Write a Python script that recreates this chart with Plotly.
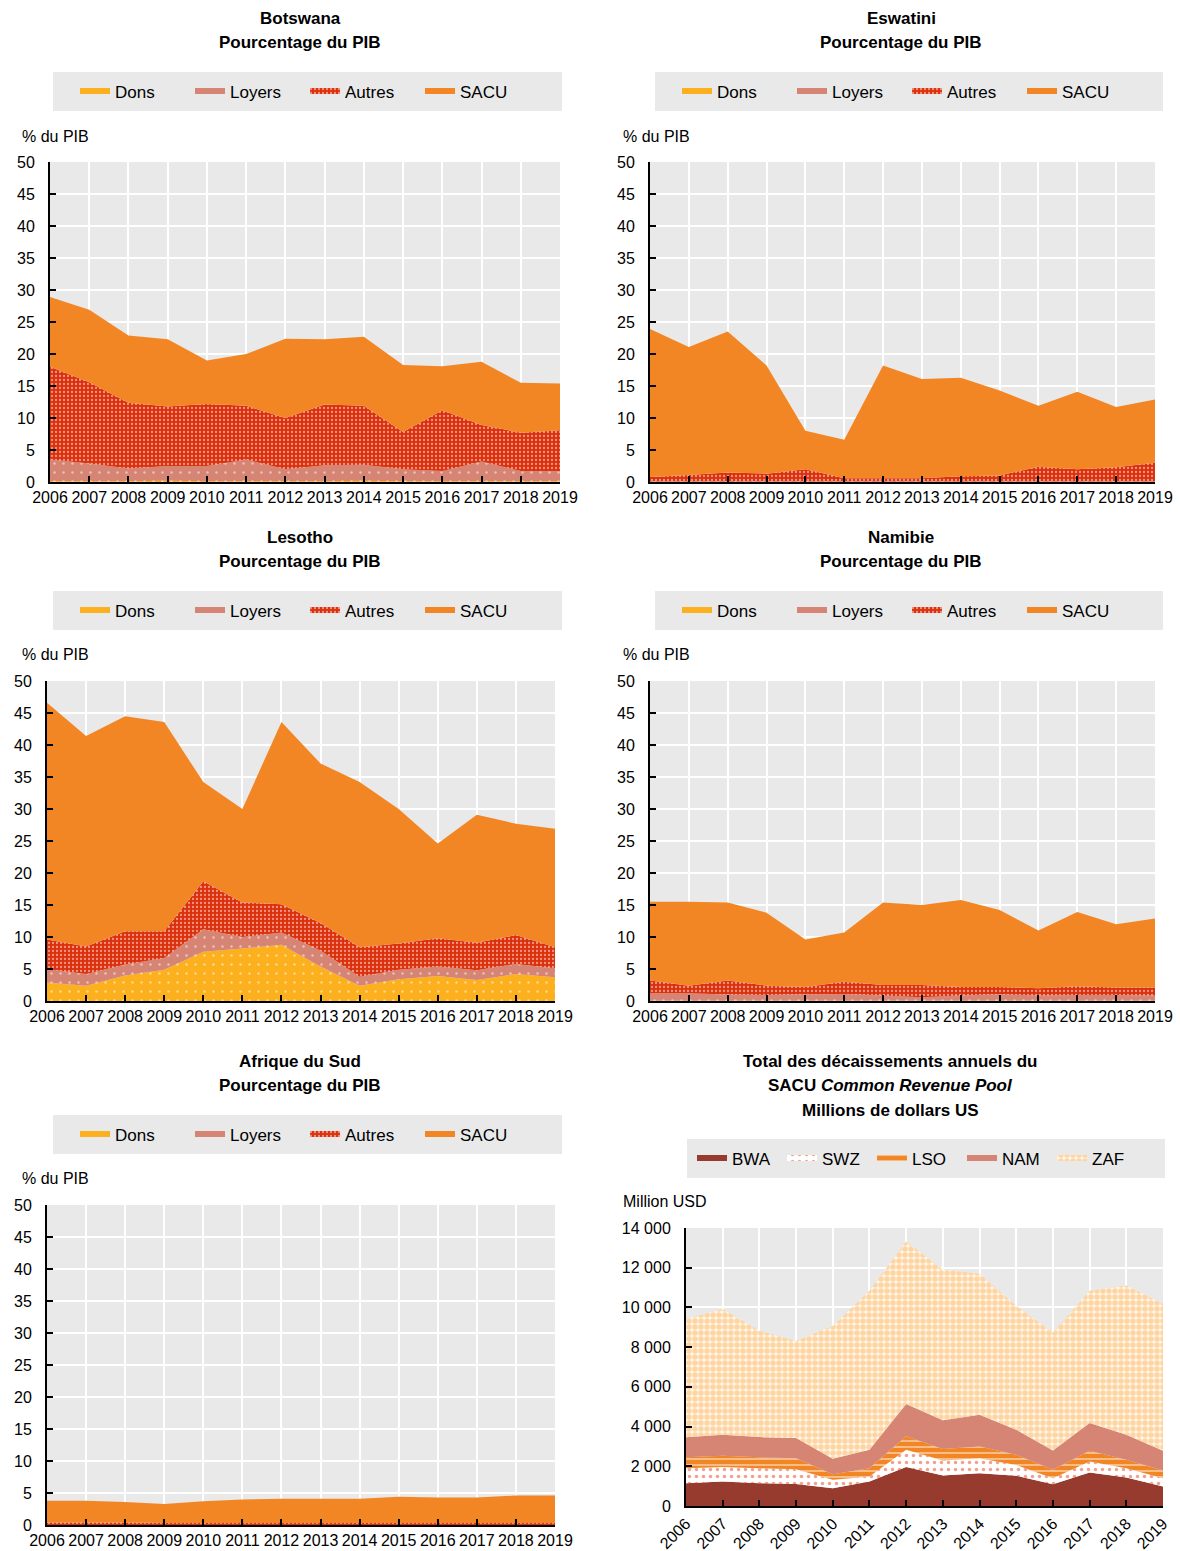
import plotly.graph_objects as go

# ---------------- DATA ----------------
years = list(range(2006, 2020))
series_names = ["Dons", "Loyers", "Autres", "SACU"]

# Botswana (% du PIB)
bwa_dons = [0.1, 0.1, 0.1, 0.2, 0.1, 0.1, 0.1, 0.1, 0.2, 0.1, 0.1, 0.1, 0.1, 0.1]
bwa_loyers = [3.4, 2.8, 2.0, 2.3, 2.4, 3.4, 1.9, 2.5, 2.5, 1.9, 1.6, 3.1, 1.6, 1.6]
bwa_autres = [14.5, 12.7, 10.3, 9.3, 9.7, 8.4, 8.0, 9.5, 9.2, 5.8, 9.5, 5.7, 6.0, 6.4]
bwa_sacu = [10.9, 11.3, 10.5, 10.5, 6.8, 8.1, 12.4, 10.2, 10.8, 10.5, 6.9, 9.9, 7.8, 7.3]

# Eswatini (% du PIB)
swz_dons = [0.0] * 14
swz_loyers = [0.1, 0.1, 0.1, 0.1, 0.1, 0.1, 0.1, 0.1, 0.1, 0.1, 0.1, 0.1, 0.1, 0.1]
swz_autres = [0.7, 1.0, 1.4, 1.2, 1.9, 0.5, 0.5, 0.5, 0.8, 0.9, 2.3, 1.9, 2.2, 2.9]
swz_sacu = [23.1, 20.0, 22.0, 16.9, 6.0, 6.0, 17.6, 15.5, 15.4, 13.3, 9.5, 12.1, 9.4, 9.9]

# Lesotho (% du PIB)
lso_dons = [2.9, 2.4, 4.0, 4.9, 7.7, 8.2, 8.8, 5.4, 2.4, 3.4, 3.9, 3.3, 4.2, 3.7]
lso_loyers = [2.1, 1.8, 1.7, 1.8, 3.5, 1.8, 1.9, 2.5, 1.4, 1.5, 1.5, 1.5, 1.6, 1.4]
lso_autres = [4.6, 4.3, 5.2, 4.2, 7.5, 5.4, 4.4, 4.3, 4.6, 4.1, 4.4, 4.3, 4.5, 3.3]
lso_sacu = [37.0, 32.9, 33.6, 32.7, 15.5, 14.6, 28.5, 24.9, 25.8, 21.0, 14.8, 20.0, 17.4, 18.5]

# Namibie (% du PIB)
nam_dons = [0.05] * 14
nam_loyers = [1.15, 1.15, 0.95, 0.9, 1.0, 1.05, 0.8, 0.55, 0.8, 1.0, 0.8, 0.9, 0.9, 0.8]
nam_autres = [2.0, 1.2, 2.2, 1.45, 1.15, 1.9, 1.65, 1.9, 1.35, 1.15, 1.15, 1.35, 1.15, 1.25]
nam_sacu = [12.3, 13.1, 12.2, 11.4, 7.4, 7.7, 12.9, 12.5, 13.6, 12.0, 9.0, 11.6, 9.9, 10.8]

# Afrique du Sud (% du PIB)
zaf_dons = [0.0] * 14
zaf_loyers = [0.0] * 14
zaf_autres = [0.4, 0.4, 0.4, 0.3, 0.3, 0.3, 0.3, 0.3, 0.3, 0.3, 0.3, 0.3, 0.3, 0.3]
zaf_sacu = [3.4, 3.4, 3.2, 3.0, 3.4, 3.7, 3.8, 3.8, 3.8, 4.1, 4.0, 4.0, 4.3, 4.3]

# SACU Common Revenue Pool (millions USD)
pool_names = ["BWA", "SWZ", "LSO", "NAM", "ZAF"]
pool_bwa = [1150, 1230, 1150, 1110, 890, 1230, 1960, 1530, 1650, 1520, 1100, 1690, 1430, 980]
pool_swz = [750, 730, 750, 740, 430, 250, 870, 760, 760, 550, 300, 550, 470, 420]
pool_lso = [560, 570, 550, 560, 280, 420, 680, 580, 590, 510, 420, 540, 430, 390]
pool_nam = [1000, 1060, 1020, 1010, 780, 930, 1630, 1450, 1600, 1260, 980, 1400, 1260, 990]
pool_zaf = [5950, 6330, 5350, 4890, 6690, 8010, 8180, 7580, 7090, 6240, 5940, 6660, 7510, 7390]

pct_ticks = list(range(0, 55, 5))
usd_ticks = [0, 2000, 4000, 6000, 8000, 10000, 12000, 14000]
usd_ticktext = ["0", "2 000", "4 000", "6 000", "8 000", "10 000", "12 000", "14 000"]

# ---------------- STYLE ----------------
W, H = 1180, 1551
FONT = "Liberation Sans Narrow, Arial Narrow, Liberation Sans, Arial, sans-serif"
BG = "#E9E9E9"

def px(x):
    return x / W

def py(y):
    return 1 - y / H

styles = {
    "Dons": dict(fillcolor="#FDB01E", fillpattern=dict(shape=".", bgcolor="#FDB01E", fgcolor="white", size=9, solidity=0.06)),
    "Loyers": dict(fillcolor="#D68474", fillpattern=dict(shape=".", bgcolor="#D68474", fgcolor="white", size=9, solidity=0.06)),
    "Autres": dict(fillcolor="#DC300C", fillpattern=dict(shape=".", bgcolor="#DC300C", fgcolor="white", size=4, solidity=0.25)),
    "SACU": dict(fillcolor="#F38624"),
    "BWA": dict(fillcolor="#963B2E"),
    "SWZ": dict(fillcolor="white", fillpattern=dict(shape=".", bgcolor="white", fgcolor="#E8401C", size=7, solidity=0.2)),
    "LSO": dict(fillcolor="#F38624", fillpattern=dict(shape="-", bgcolor="#F38624", fgcolor="white", size=6, solidity=0.3)),
    "NAM": dict(fillcolor="#D68474"),
    "ZAF": dict(fillcolor="#FCC27A", fillpattern=dict(shape=".", bgcolor="#FFF6EA", fgcolor="#FBB25A", size=6, solidity=0.65)),
}

panels = [
    dict(title=["<b>Botswana</b>", "<b>Pourcentage du PIB</b>"], data=[bwa_dons, bwa_loyers, bwa_autres, bwa_sacu], names=series_names,
         box=(50, 560, 162, 482), legbox=(53, 562, 72, 111), legx=75, entw=70, tx=300, ty=18, ylab="% du PIB", ylabpos=(20, 136)),
    dict(title=["<b>Eswatini</b>", "<b>Pourcentage du PIB</b>"], data=[swz_dons, swz_loyers, swz_autres, swz_sacu], names=series_names,
         box=(650, 1155, 162, 482), legbox=(655, 1163, 72, 111), legx=677, entw=70, tx=901, ty=18, ylab="% du PIB", ylabpos=(621, 136)),
    dict(title=["<b>Lesotho</b>", "<b>Pourcentage du PIB</b>"], data=[lso_dons, lso_loyers, lso_autres, lso_sacu], names=series_names,
         box=(47, 555, 681, 1001), legbox=(53, 562, 591, 630), legx=75, entw=70, tx=300, ty=537, ylab="% du PIB", ylabpos=(20, 654)),
    dict(title=["<b>Namibie</b>", "<b>Pourcentage du PIB</b>"], data=[nam_dons, nam_loyers, nam_autres, nam_sacu], names=series_names,
         box=(650, 1155, 681, 1001), legbox=(655, 1163, 591, 630), legx=677, entw=70, tx=901, ty=537, ylab="% du PIB", ylabpos=(621, 654)),
    dict(title=["<b>Afrique du Sud</b>", "<b>Pourcentage du PIB</b>"], data=[zaf_dons, zaf_loyers, zaf_autres, zaf_sacu], names=series_names,
         box=(47, 555, 1205, 1525), legbox=(53, 562, 1115, 1154), legx=75, entw=70, tx=300, ty=1061, ylab="% du PIB", ylabpos=(20, 1178)),
    dict(title=["<b>Total des décaissements annuels du</b>", "<b>SACU <i>Common Revenue Pool</i></b>", "<b>Millions de dollars US</b>"],
         data=[pool_bwa, pool_swz, pool_lso, pool_nam, pool_zaf], names=pool_names,
         box=(686, 1163, 1228, 1506), legbox=(687, 1165, 1139, 1178), legx=692, entw=45, tx=890, ty=1061, ylab="Million USD", ylabpos=(621, 1201)),
]

fig = go.Figure()
layout = dict(width=W, height=H, margin=dict(l=0, r=0, t=0, b=0, autoexpand=False), paper_bgcolor="white",
              plot_bgcolor=BG, font=dict(family=FONT, size=16, color="black"), showlegend=True)
shapes = []
annotations = []

for i, p in enumerate(panels):
    n = i + 1
    xa = "x" if n == 1 else f"x{n}"
    ya = "y" if n == 1 else f"y{n}"
    leg = "legend" if n == 1 else f"legend{n}"
    x0, x1, y0, y1 = p["box"]
    for name, vals in zip(p["names"], p["data"]):
        st = styles[name]
        kw = dict(x=years, y=vals, name=name, stackgroup=f"g{n}", mode="none",
                  fillcolor=st["fillcolor"], xaxis=xa, yaxis=ya, legend=leg, hoverinfo="x+y+name")
        if "fillpattern" in st:
            kw["fillpattern"] = st["fillpattern"]
        fig.add_trace(go.Scatter(**kw))

    is_usd = (n == 6)
    xkey = "xaxis" if n == 1 else f"xaxis{n}"
    ykey = "yaxis" if n == 1 else f"yaxis{n}"
    layout[xkey] = dict(domain=[px(x0), px(x1)], anchor=ya, range=[2006, 2019], tickmode="array",
                        tickvals=years, ticktext=[str(y) for y in years], showgrid=True, gridcolor="white",
                        gridwidth=2, showline=True, linecolor="black", linewidth=2, ticks="inside",
                        ticklen=6, tickwidth=2, tickcolor="black", zeroline=False,
                        tickangle=-45 if is_usd else 0, tickfont=dict(size=16), fixedrange=True,
                        automargin=False)
    if is_usd:
        layout[ykey] = dict(domain=[py(y1), py(y0)], anchor=xa, range=[0, 14000], tickmode="array",
                            tickvals=usd_ticks, ticktext=usd_ticktext)
    else:
        layout[ykey] = dict(domain=[py(y1), py(y0)], anchor=xa, range=[0, 50], tickmode="array",
                            tickvals=pct_ticks, ticktext=[str(t) for t in pct_ticks])
    layout[ykey].update(showgrid=True, gridcolor="white", gridwidth=2, showline=True, linecolor="black",
                        linewidth=2, ticks="inside", ticklen=6, tickwidth=2, tickcolor="black",
                        zeroline=False, tickfont=dict(size=16), fixedrange=True, automargin=False,
                        ticklabelstandoff=10)

    lx0, lx1, ly0, ly1 = p["legbox"]
    shapes.append(dict(type="rect", xref="paper", yref="paper", x0=px(lx0), x1=px(lx1), y0=py(ly1), y1=py(ly0),
                       fillcolor=BG, line=dict(width=0), layer="below"))
    layout[leg] = dict(orientation="h", x=px(p["legx"]), xanchor="left", y=py((ly0 + ly1) / 2), yanchor="middle",
                       xref="container", yref="container",
                       bgcolor="rgba(0,0,0,0)", font=dict(size=17, family=FONT), traceorder="normal",
                       entrywidth=p["entw"], entrywidthmode="pixels")

    for k, line in enumerate(p["title"]):
        annotations.append(dict(text=line, xref="paper", yref="paper", x=px(p["tx"]), y=py(p["ty"] + 24.5 * k),
                                xanchor="center", yanchor="middle", showarrow=False, font=dict(size=17, family=FONT)))
    annotations.append(dict(text=p["ylab"], xref="paper", yref="paper", x=px(p["ylabpos"][0]), y=py(p["ylabpos"][1]),
                            xanchor="left", yanchor="middle", showarrow=False, font=dict(size=16, family=FONT)))

layout["shapes"] = shapes
layout["annotations"] = annotations
fig.update_layout(**layout)
fig.write_html("out.html", config={"displayModeBar": False},
               post_script="document.body.style.margin='0px';")
